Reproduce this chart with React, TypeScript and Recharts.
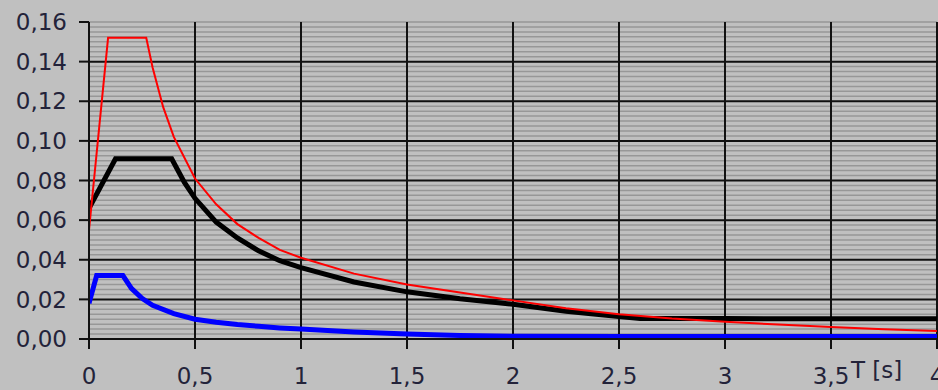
import { LineChart, Line, XAxis, YAxis, CartesianGrid } from "recharts";

// Response spectra, period T [s] vs ordinate
const blackSpectrum = [
  { t: 0, v: 0.066 },
  { t: 0.125, v: 0.091 },
  { t: 0.39, v: 0.091 },
  { t: 0.45, v: 0.079 },
  { t: 0.5, v: 0.071 },
  { t: 0.6, v: 0.059 },
  { t: 0.7, v: 0.051 },
  { t: 0.8, v: 0.0445 },
  { t: 0.9, v: 0.0395 },
  { t: 1.0, v: 0.036 },
  { t: 1.25, v: 0.0288 },
  { t: 1.5, v: 0.0238 },
  { t: 1.75, v: 0.0203 },
  { t: 2.0, v: 0.0175 },
  { t: 2.25, v: 0.014 },
  { t: 2.5, v: 0.0113 },
  { t: 2.6, v: 0.0104 },
  { t: 3.0, v: 0.0103 },
  { t: 3.5, v: 0.0102 },
  { t: 4.0, v: 0.0102 },
];

const blueSpectrum = [
  { t: 0, v: 0.018 },
  { t: 0.036, v: 0.032 },
  { t: 0.16, v: 0.032 },
  { t: 0.2, v: 0.0256 },
  { t: 0.25, v: 0.0205 },
  { t: 0.3, v: 0.017 },
  { t: 0.4, v: 0.0128 },
  { t: 0.5, v: 0.01 },
  { t: 0.6, v: 0.0085 },
  { t: 0.7, v: 0.0073 },
  { t: 0.8, v: 0.0064 },
  { t: 0.9, v: 0.0056 },
  { t: 1.0, v: 0.005 },
  { t: 1.25, v: 0.0035 },
  { t: 1.5, v: 0.0025 },
  { t: 1.75, v: 0.0018 },
  { t: 2.0, v: 0.0014 },
  { t: 2.5, v: 0.0012 },
  { t: 3.0, v: 0.0012 },
  { t: 3.5, v: 0.0012 },
  { t: 4.0, v: 0.0012 },
];

const redSpectrum = [
  { t: 0, v: 0.055 },
  { t: 0.09, v: 0.152 },
  { t: 0.27, v: 0.152 },
  { t: 0.3, v: 0.137 },
  { t: 0.35, v: 0.117 },
  { t: 0.4, v: 0.102 },
  { t: 0.5, v: 0.081 },
  { t: 0.6, v: 0.068 },
  { t: 0.7, v: 0.058 },
  { t: 0.8, v: 0.051 },
  { t: 0.9, v: 0.045 },
  { t: 1.0, v: 0.041 },
  { t: 1.25, v: 0.033 },
  { t: 1.5, v: 0.0275 },
  { t: 1.75, v: 0.0235 },
  { t: 2.0, v: 0.0195 },
  { t: 2.25, v: 0.0155 },
  { t: 2.5, v: 0.0125 },
  { t: 2.75, v: 0.0103 },
  { t: 3.0, v: 0.0087 },
  { t: 3.25, v: 0.0073 },
  { t: 3.5, v: 0.006 },
  { t: 3.75, v: 0.0049 },
  { t: 4.0, v: 0.004 },
];

const periodTicks = [0, 0.5, 1, 1.5, 2, 2.5, 3, 3.5, 4];
const valueTicks = [0, 0.02, 0.04, 0.06, 0.08, 0.1, 0.12, 0.14, 0.16];

// fine horizontal rules every 0.0025 between the major ones
const minorValues = Array.from({ length: 65 }, (_, i) => i * 0.0025).filter(
  (_, i) => i % 8 !== 0 || i === 64
);
const majorValues = valueTicks.slice(0, -1);

const FONT = "'DejaVu Sans', Verdana, sans-serif";
const TEXT = "#23233a";

const comma = (v: number) => String(v).replace(".", ",");

export default function App() {
  return (
    <div
      style={{
        position: "absolute",
        left: 0,
        top: 0,
        width: 938,
        height: 390,
        background: "#c0c0c0",
        overflow: "hidden",
      }}
    >
      <LineChart
        width={938}
        height={390}
        margin={{ top: 22, right: 1, bottom: 0, left: 0 }}
      >
        <CartesianGrid
          vertical={false}
          horizontalValues={minorValues}
          stroke="#979797"
          strokeWidth={1.5}
        />
        <CartesianGrid
          horizontalValues={majorValues}
          verticalValues={periodTicks}
          stroke="#111"
          strokeWidth={2}
        />
        <XAxis
          type="number"
          dataKey="t"
          domain={[0, 4]}
          ticks={periodTicks}
          interval={0}
          tickFormatter={comma}
          height={51}
          tickSize={10}
          tickMargin={19}
          stroke="#111"
          strokeWidth={2}
          tick={{ fill: TEXT, fontSize: 23, fontFamily: FONT }}
          allowDataOverflow
        />
        <YAxis
          type="number"
          domain={[0, 0.16]}
          ticks={valueTicks}
          interval={0}
          tickFormatter={(v: number) => v.toFixed(2).replace(".", ",")}
          width={89}
          tickSize={10}
          tickMargin={12}
          stroke="#111"
          strokeWidth={2}
          tick={{ fill: TEXT, fontSize: 23, fontFamily: FONT }}
          allowDataOverflow
        />
        <Line
          data={blackSpectrum}
          dataKey="v"
          type="linear"
          stroke="#000"
          strokeWidth={5}
          dot={false}
          isAnimationActive={false}
        />
        <Line
          data={blueSpectrum}
          dataKey="v"
          type="linear"
          stroke="#0000ff"
          strokeWidth={5}
          dot={false}
          isAnimationActive={false}
        />
        <Line
          data={redSpectrum}
          dataKey="v"
          type="linear"
          stroke="#ff0000"
          strokeWidth={2}
          dot={false}
          isAnimationActive={false}
        />
        <text x={851} y={378} fontSize={23} fontFamily={FONT} fill={TEXT}>
          T [s]
        </text>
      </LineChart>
    </div>
  );
}
